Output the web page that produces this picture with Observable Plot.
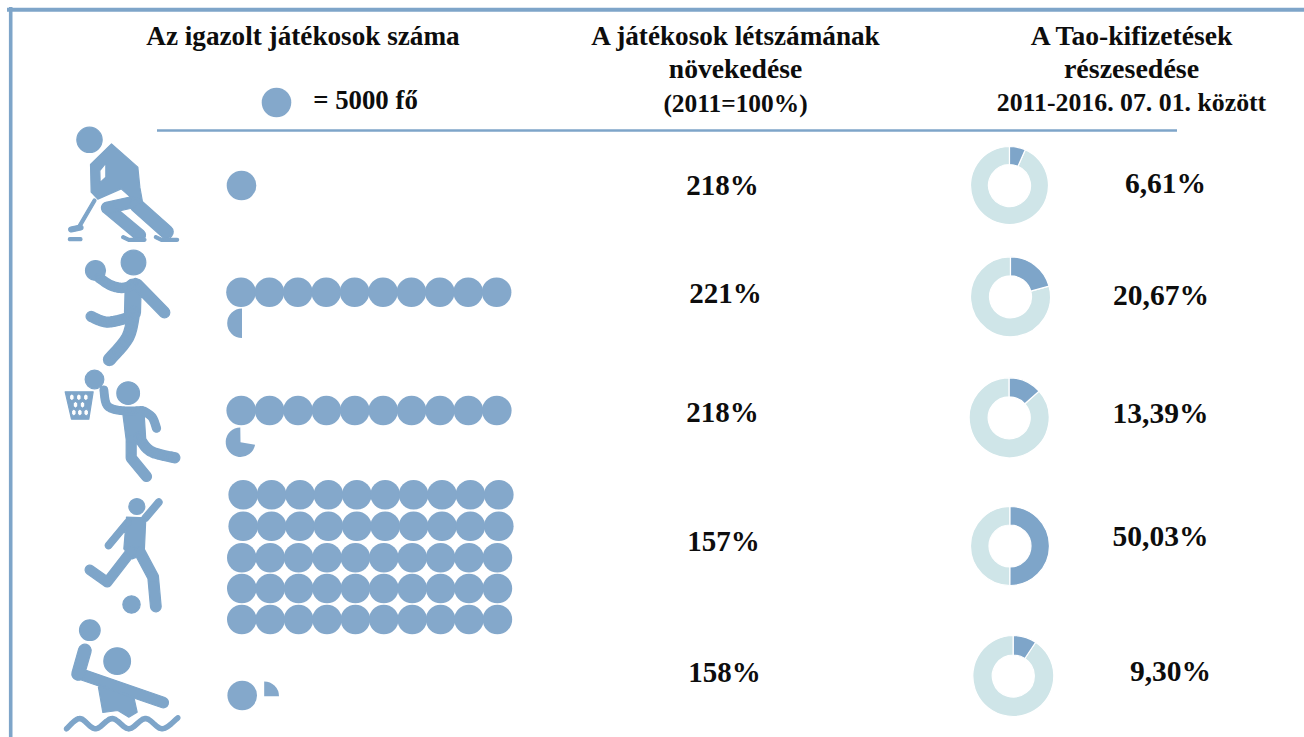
<!DOCTYPE html>
<html lang="hu">
<head>
<meta charset="utf-8">
<title>Igazolt játékosok és Tao-kifizetések</title>
<style>
  html, body { margin: 0; padding: 0; background: #fff; overflow: hidden; }
  svg { display: block; }
</style>
<script src="https://cdn.jsdelivr.net/npm/d3@7"></script>
<script src="https://cdn.jsdelivr.net/npm/@observablehq/plot@0.6"></script>
</head>
<body>
<div id="chart"></div>
<script>
// ---------- DATA ----------
const sports = ["Jégkorong", "Kézilabda", "Kosárlabda", "Labdarúgás", "Vízilabda"];
const players = [5000, 52500, 53600, 250000, 6250];
const growth = [218, 221, 218, 157, 158];
const taoShare = [6.61, 20.67, 13.39, 50.03, 9.30];
const playersPerDot = 5000;
const dotsPerRow = 10;

const headerPlayers = ["Az igazolt játékosok száma"];
const legendLabel = ["= 5000 fő"];
const headerGrowth = ["A játékosok létszámának", "növekedése", "(2011=100%)"];
const headerTao = ["A Tao-kifizetések", "részesedése", "2011-2016. 07. 01. között"];

// ---------- LAYOUT (pixel grid of the page, kept apart from the data) ----------
const W = 1304, H = 737;
const FRAME = "#7ea5c9", DOT = "#84a8cb", ICON = "#7ea5c9", RING = "#cfe5e8", INK = "#0d0d0d";
const SERIF = "'Liberation Serif', serif";
const dotStep = 28.4, dotR = 14.8;
const rowStarts = [
  [[241, 185]],
  [[240.5, 291.7], [241.5, 322.7]],
  [[240.7, 410], [240, 441.7]],
  [[242.7, 494.3], [242.7, 525.7], [241.3, 557.3], [241.3, 588], [241.3, 619]],
  [[241.7, 695], [263.7, 695.7]]
];
const partStartDeg = [0, 180, 100, 0, 0];
const growthPos = [[722, 185], [725, 293], [722, 412], [723, 541], [724, 672]];
const taoPos = [[1165, 183], [1160.5, 295], [1160, 413], [1160, 536], [1170, 671]];
const donutPos = [[1009, 185, 39], [1010, 296.3, 40], [1008.7, 417.3, 40], [1009.5, 545.5, 39.5], [1012.8, 675.5, 40.5]];
const donutHole = 21;

// ---------- CUSTOM SYMBOLS ----------
const rad = d => d * Math.PI / 180;
const wedge = (a0, a1) => ({
  draw(ctx, size) {
    const r = Math.sqrt(size / Math.PI);
    ctx.moveTo(0, 0);
    ctx.arc(0, 0, r, rad(a0 - 90), rad(a1 - 90));
    ctx.closePath();
  }
});
const ringSlice = (inner, outer, a0, a1) => ({
  draw(ctx) {
    d3.arc().context(ctx)({innerRadius: inner, outerRadius: outer, startAngle: rad(a0), endAngle: rad(a1)});
  }
});

// Pictograms are written in a 3x grid and drawn at a third of that size.
const K = 1 / 3;
function area(pts) {
  let s = 0;
  pts.forEach((p, i) => { const q = pts[(i + 1) % pts.length]; s += p[0] * q[1] - q[0] * p[1]; });
  return s;
}
function polygon(ctx, pts, hole) {
  const a = area(pts);
  const list = (hole ? a < 0 : a > 0) ? pts.slice().reverse() : pts;
  list.forEach((p, i) => i ? ctx.lineTo(p[0] * K, p[1] * K) : ctx.moveTo(p[0] * K, p[1] * K));
  ctx.closePath();
}
function disc(ctx, x, y, r, hole) {
  ctx.moveTo((x + r) * K, y * K);
  ctx.arc(x * K, y * K, r * K, 0, 2 * Math.PI, !hole);
  ctx.closePath();
}
function smooth(pts, steps = 6) {
  const out = [pts[0]];
  for (let i = 0; i < pts.length - 1; i++) {
    const p0 = pts[Math.max(i - 1, 0)], p1 = pts[i], p2 = pts[i + 1], p3 = pts[Math.min(i + 2, pts.length - 1)];
    for (let s = 1; s <= steps; s++) {
      const t = s / steps, t2 = t * t, t3 = t2 * t;
      out.push([0, 1].map(k => 0.5 * (2 * p1[k] + (p2[k] - p0[k]) * t +
        (2 * p0[k] - 5 * p1[k] + 4 * p2[k] - p3[k]) * t2 +
        (3 * p1[k] - p0[k] - 3 * p2[k] + p3[k]) * t3)));
    }
  }
  return out;
}
function limb(ctx, w, pts) {
  const r = w / 2 * K;
  for (let i = 0; i < pts.length - 1; i++) {
    const ax = pts[i][0] * K, ay = pts[i][1] * K, bx = pts[i + 1][0] * K, by = pts[i + 1][1] * K;
    const t = Math.atan2(by - ay, bx - ax);
    ctx.moveTo(bx + r * Math.cos(t + Math.PI / 2), by + r * Math.sin(t + Math.PI / 2));
    ctx.arc(bx, by, r, t + Math.PI / 2, t - Math.PI / 2, true);
    ctx.arc(ax, ay, r, t - Math.PI / 2, t - 3 * Math.PI / 2, true);
    ctx.closePath();
  }
}
const iconHockey = {draw(c) {
  disc(c, 267, 418, 38);
  polygon(c, [[333,430],[412,500],[418,560],[428,615],[390,590],[362,565],[292,596],[272,575],[270,492]]);
  polygon(c, [[316,488],[298,510],[299,546],[316,530]], true);
  limb(c, 34, [[392,606],[320,622],[418,704]]);
  limb(c, 40, [[408,614],[498,694]]);
  limb(c, 9, [[282,600],[234,682]]);
  limb(c, 15, [[212,687],[240,681]]);
  limb(c, 9, [[208,716],[240,716]]);
  limb(c, 9, [[368,710],[385,718],[432,718]]);
  limb(c, 9, [[466,710],[483,718],[530,718]]);
}};
const iconHandball = {draw(c) {
  disc(c, 279, 66, 37);
  disc(c, 165, 90, 30);
  limb(c, 28, smooth([[176,112],[212,135],[250,142],[285,128]]));
  limb(c, 48, [[278,140],[276,215]]);
  limb(c, 30, smooth([[152,228],[200,245],[262,232]]));
  limb(c, 36, smooth([[280,215],[262,290],[207,357]]));
  limb(c, 32, [[290,132],[372,216]]);
}};
const iconBasketball = {draw(c) {
  disc(c, 263, 458, 34);
  disc(c, 162, 417, 28);
  limb(c, 23, smooth([[190,448],[200,495],[240,510],[305,510]]));
  polygon(c, [[245,505],[310,505],[316,600],[258,605]]);
  limb(c, 24, smooth([[310,512],[335,530],[348,563]]));
  limb(c, 30, smooth([[295,590],[330,632],[403,652]]));
  limb(c, 30, [[272,600],[272,652],[318,708]]);
  // basket with net openings
  polygon(c, [[74,454],[158,454],[145,536],[93,536]]);
  [[470,[94,115,136]],[493,[105,126]],[516,[100,118,137]]].forEach(([y, xs]) =>
    xs.forEach(x => polygon(c, [[x,y-11],[x+7,y-5],[x+7,y+5],[x,y+11],[x-7,y+5],[x-7,y-5]], true)));
}};
const iconFootball = {draw(c) {
  disc(c, 289, 78, 24);
  disc(c, 273, 372, 26);
  limb(c, 20, [[315,112],[355,65]]);
  limb(c, 20, [[262,125],[204,195]]);
  polygon(c, [[258,110],[316,112],[311,222],[275,235],[250,205]]);
  limb(c, 28, [[272,212],[200,305],[148,268]]);
  limb(c, 32, [[298,215],[338,290],[346,378]]);
}};
const iconWaterPolo = {draw(c) {
  disc(c, 148, 449, 31);
  disc(c, 230, 542, 40);
  limb(c, 38, [[133,510],[113,580]]);
  limb(c, 32, [[112,578],[368,666]]);
  polygon(c, [[172,610],[280,650],[290,695],[265,710],[232,690],[187,696]]);
  limb(c, 13, smooth([[78,745],[118,714],[165,745],[215,714],[265,745],[315,714],[365,745],[412,712]]));
}};
const icons = [
  {sym: iconHockey, x: 0, y: 0},
  {sym: iconHandball, x: 40, y: 240},
  {sym: iconBasketball, x: 40, y: 240},
  {sym: iconFootball, x: 40, y: 480},
  {sym: iconWaterPolo, x: 40, y: 480}
];

// ---------- DERIVED TABLES ----------
const fullDots = sports.flatMap((sport, i) => {
  const n = Math.floor(players[i] / playersPerDot);
  return d3.range(n).map(k => {
    const row = rowStarts[i][Math.floor(k / dotsPerRow)];
    return {sport, x: row[0] + (k % dotsPerRow) * dotStep, y: row[1]};
  });
});
const partMarks = sports.flatMap((sport, i) => {
  const frac = players[i] / playersPerDot % 1;
  if (!frac) return [];
  const pos = rowStarts[i][rowStarts[i].length - 1];
  const a0 = partStartDeg[i];
  return [Plot.dot([{sport, x: pos[0], y: pos[1]}], {
    x: "x", y: "y", r: dotR, fill: DOT, stroke: "none",
    symbol: wedge(a0, a0 + frac * 360)
  })];
});
const donutMarks = sports.flatMap((sport, i) => {
  const [x, y, R] = donutPos[i];
  const end = taoShare[i] * 3.6;
  const at = [{sport, x, y}];
  const opts = {x: "x", y: "y", r: R, stroke: "#fff", strokeWidth: 1.2};
  return [
    Plot.dot(at, {...opts, fill: RING, symbol: ringSlice(donutHole, R, end, 360)}),
    Plot.dot(at, {...opts, fill: FRAME, symbol: ringSlice(donutHole, R, 0, end)})
  ];
});
const lines = (arr, x, ys, sizes) => arr.map((text, i) => ({text, x, y: ys[i], size: sizes[i]}));
const headers = [
  ...lines(headerPlayers, 302.5, [36], [27.2]),
  ...lines(legendLabel, 365, [100], [26.8]),
  ...lines(headerGrowth, 735, [36, 69, 103], [27.2, 27.6, 25.4]),
  ...lines(headerTao, 1131, [36, 69, 102], [27.6, 28, 25.8])
];
const fmtGrowth = v => `${v}%`;
const fmtShare = v => `${v.toFixed(2).replace(".", ",")}%`;
const growthRows = sports.map((sport, i) => ({sport, label: fmtGrowth(growth[i]), x: growthPos[i][0], y: growthPos[i][1]}));
const taoRows = sports.map((sport, i) => ({sport, label: fmtShare(taoShare[i]), x: taoPos[i][0], y: taoPos[i][1]}));

// ---------- CHART ----------
const chart = Plot.plot({
  width: W, height: H,
  margin: 0,
  style: {background: "#fff", overflow: "hidden"},
  x: {domain: [0, W], range: [0, W], axis: null},
  y: {domain: [0, H], range: [0, H], axis: null},
  marks: [
    // frame
    Plot.ruleY([9.3], {x1: 7, x2: W, stroke: FRAME, strokeWidth: 4}),
    Plot.ruleX([10.2], {y1: 7, y2: H, stroke: FRAME, strokeWidth: 3.6}),
    // header rule
    Plot.ruleY([130], {x1: 157, x2: 1177, stroke: FRAME, strokeWidth: 2.4}),
    // headers
    Plot.text(headers, {
      x: "x", y: "y", text: "text", fontFamily: SERIF, fontWeight: "bold",
      fontSize: d => d.size, fill: INK, textAnchor: "middle"
    }),
    // legend dot
    Plot.dot([playersPerDot], {x: () => 276, y: () => 102, r: dotR, fill: DOT, stroke: "none"}),
    // pictograms
    ...icons.map((ic, i) => Plot.dot([sports[i]], {
      x: () => ic.x, y: () => ic.y, r: 1, fill: ICON, stroke: ICON, strokeWidth: 1.2,
      strokeLinejoin: "round", symbol: ic.sym
    })),
    // player dots
    Plot.dot(fullDots, {x: "x", y: "y", r: dotR, fill: DOT, stroke: "none"}),
    ...partMarks,
    // growth
    Plot.text(growthRows, {
      x: "x", y: "y", text: "label", fontFamily: SERIF, fontWeight: "bold",
      fontSize: 29, fill: INK, textAnchor: "middle"
    }),
    // donuts
    ...donutMarks,
    Plot.text(taoRows, {
      x: "x", y: "y", text: "label", fontFamily: SERIF, fontWeight: "bold",
      fontSize: 29.5, fill: INK, textAnchor: "middle"
    })
  ]
});
document.getElementById("chart").appendChild(chart);
</script>
</body>
</html>
